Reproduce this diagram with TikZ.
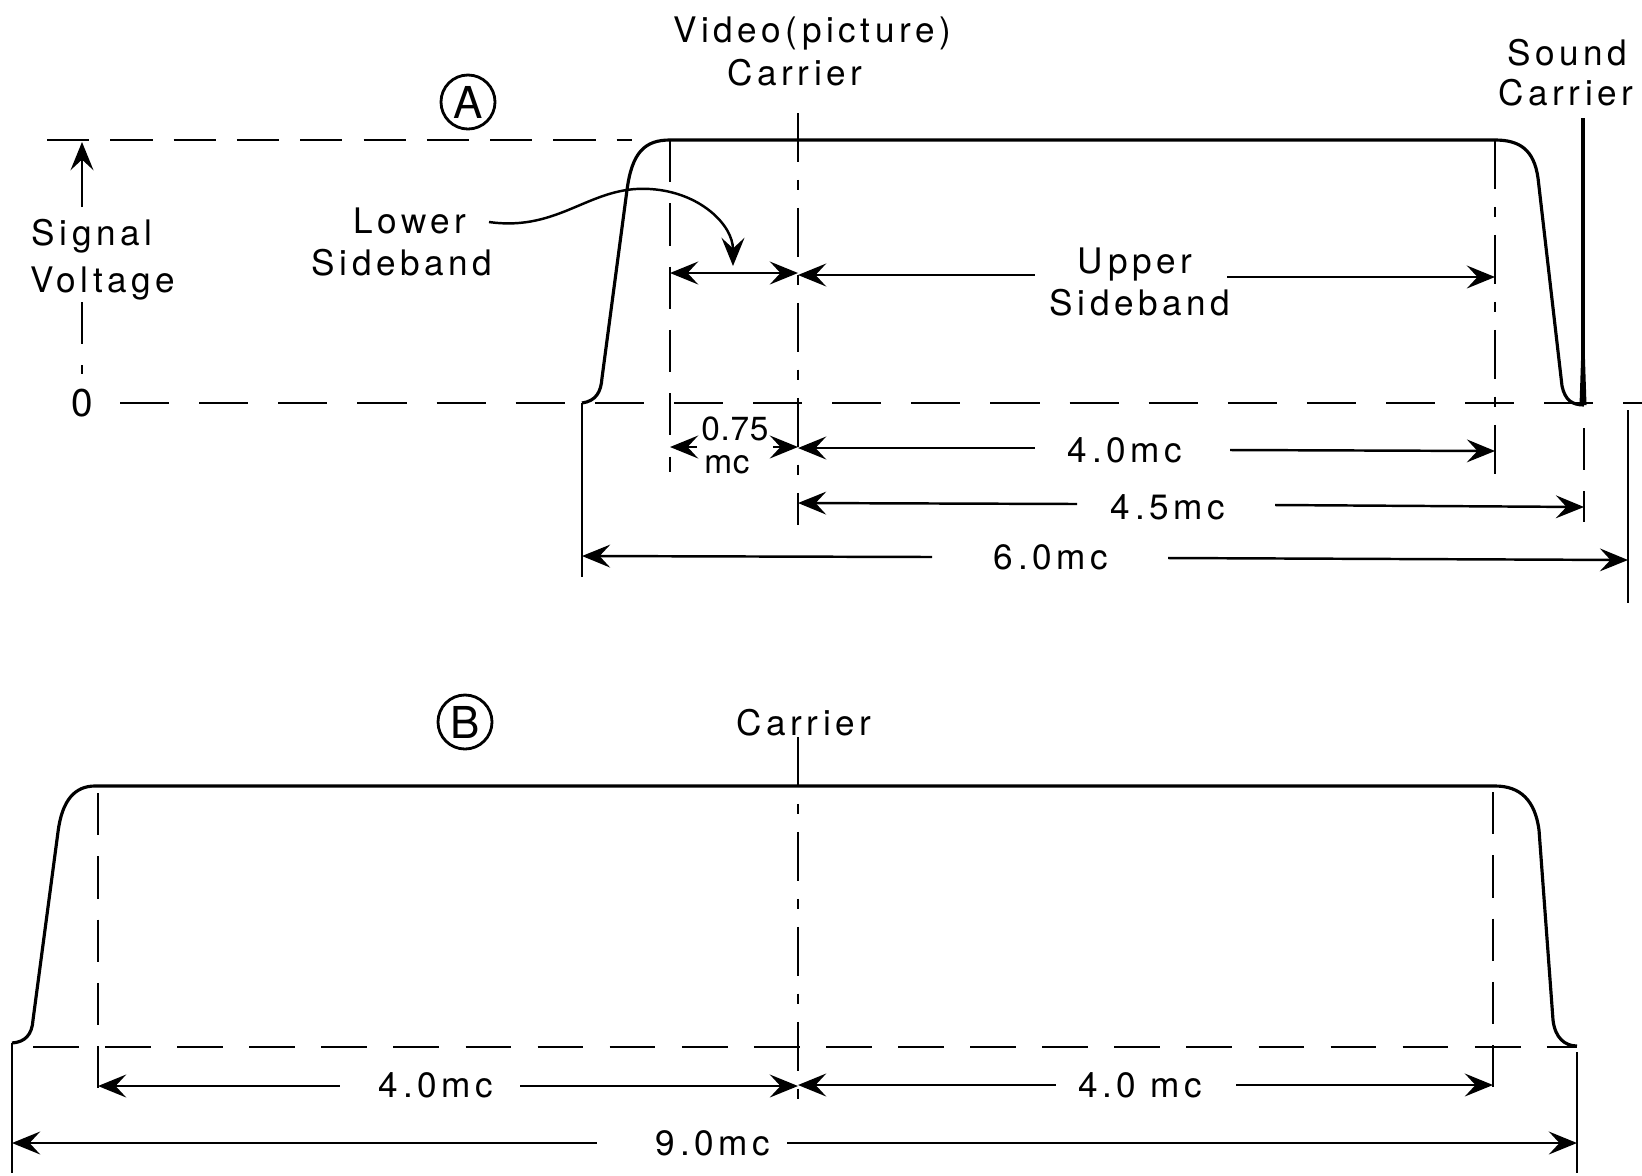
\documentclass[tikz,border=0pt]{standalone}
\usepackage{fontspec}
\setmainfont{TeX Gyre Heros}[LetterSpace=13]
\usetikzlibrary{arrows.meta}

\begin{document}
\begin{tikzpicture}[x=0.01cm, y=-0.01cm,
    >={Stealth[length=8pt, width=6.5pt, inset=3pt]},
    every node/.style={font=\fontsize{10}{12}\selectfont, inner sep=0pt},
    band/.style={line width=0.9pt},
    dim/.style={line width=0.7pt},
    guide/.style={line width=0.8pt, dash pattern=on 12pt off 6pt},
    levelA/.style={line width=0.8pt, dash pattern=on 14pt off 8.5pt},
    levelB/.style={line width=0.8pt, dash pattern=on 13pt off 7.5pt},
    carrier/.style={line width=0.8pt, dash pattern=on 14pt off 5pt on 3pt off 5pt},
    small/.style={font=\fontsize{9.5}{11}\selectfont\addfontfeatures{LetterSpace=2}},
    tag/.style={circle, draw, line width=0.8pt, minimum size=0.54cm, font=\fontsize{12.5}{14}\selectfont}]

    \useasboundingbox (0,0) rectangle (1642,1175);

    % =================================================================
    % 1. MAIN POINTS OF PART A
    % =================================================================
    \coordinate (LowA) at (670,140);
    \coordinate (VidA) at (798,113);
    \coordinate (UpA) at (1495,140);
    \coordinate (SndA) at (1583,118);
    \coordinate (FootL) at (582,403);
    \coordinate (FootR) at (1584,405);

    % =================================================================
    % 2. LEVEL LINES, GUIDES AND THE PASSBAND OF PART A
    % =================================================================
    \draw[guide] (47,140) -- (632,140);
    \draw[levelA] (120,403) -- (1642,403);

    % signal voltage axis
    \draw[dim, ->] (82,207) -- (82,142);
    \draw[guide] (82,302) -- (82,374);

    % vertical guides
    \draw[guide] (LowA) -- (670,472);
    \draw[carrier] (VidA) -- (798,525);
    \draw[carrier] (UpA) -- (1495,480);
    \draw[guide] (1584,428) -- (1584,522);
    \draw[dim] (FootL) -- (582,577);
    \draw[dim] (1628,410) -- (1628,603);

    % passband curve
    \draw[band] (FootL) .. controls (596,401) and (601,392) .. (602,378)
        -- (627,190) .. controls (632,152) and (645,140) .. (LowA)
        -- (UpA) .. controls (1520,140) and (1534,150) .. (1538,178)
        -- (1562,386) .. controls (1565,400) and (1572,405) .. (FootR);

    % sound carrier
    \draw[band] (SndA) -- (1583,405);
    \fill (1579.5,405) -- (1583,300) -- (1586.5,405) -- cycle;

    % =================================================================
    % 3. DIMENSIONS OF PART A
    % =================================================================
    \draw[dim, <->] (670,273) -- (798,273);
    \draw[dim, <-] (798,275) -- (1035,275);
    \draw[dim, ->] (1227,277) -- (1495,277);

    \draw[dim, ->] (697,447) -- (670,447);
    \draw[dim, ->] (773,447) -- (798,447);
    \draw[dim, <-] (798,448) -- (1035,448);
    \draw[dim, ->] (1230,450) -- (1495,451);
    \draw[dim, <-] (798,503) -- (1077,504);
    \draw[dim, ->] (1275,505) -- (1584,507);
    \draw[dim, <-] (582,556) -- (932,557);
    \draw[dim, ->] (1168,558) -- (1628,560);

    % curved pointer from the lower sideband label
    \draw[dim, ->] (489,222) .. controls (560,232) and (590,185) .. (650,189)
        .. controls (700,192) and (733,225) .. (733,266);

    % =================================================================
    % 4. LABELS OF PART A
    % =================================================================
    \node[tag] (tagA) at (468,102) {A};
    \node[anchor=base west] (sig1) at (31,245) {Signal};
    \node[anchor=base west] (sig2) at (30,292) {Voltage};
    \node[anchor=base, font=\fontsize{11}{12}\selectfont] (zeroA) at (82,416) {0};
    \node[anchor=base] (low1) at (410,233) {Lower};
    \node[anchor=base] (low2) at (402,275) {Sideband};
    \node[anchor=base] (vid1) at (812,42) {Video(picture)};
    \node[anchor=base] (vid2) at (795,85) {Carrier};
    \node[anchor=base] (snd1) at (1567,65) {Sound};
    \node[anchor=base] (snd2) at (1566,105) {Carrier};
    \node[anchor=base] (up1) at (1135,273) {Upper};
    \node[anchor=base] (up2) at (1140,315) {Sideband};
    \node[anchor=base, small] (lsb1) at (735,440) {0.75};
    \node[anchor=base, small] (lsb2) at (727,473) {mc};
    \node[anchor=base] (wA40) at (1125,462) {4.0mc};
    \node[anchor=base] (wA45) at (1168,519) {4.5mc};
    \node[anchor=base] (wA60) at (1051,569) {6.0mc};

    % =================================================================
    % 5. PART B
    % =================================================================
    \coordinate (LowB) at (98,793);
    \coordinate (VidB) at (798,737);
    \coordinate (UpB) at (1493,792);
    \coordinate (FootBL) at (12,1043);
    \coordinate (FootBR) at (1577,1046);

    \draw[levelB] (33,1047) -- (1577,1047);
    \draw[guide] (LowB) -- (98,1098);
    \draw[guide] (UpB) -- (1493,1103);
    \draw[carrier] (VidB) -- (798,1113);
    \draw[dim] (FootBL) -- (12,1173);
    \draw[dim] (1577,1052) -- (1577,1173);

    \draw[band] (FootBL) .. controls (25,1042) and (32,1035) .. (33,1020)
        -- (58,832) .. controls (62,800) and (75,786) .. (95,786)
        -- (1495,786) .. controls (1520,786) and (1535,800) .. (1539,830)
        -- (1553,1020) .. controls (1555,1038) and (1565,1046) .. (FootBR);

    \draw[dim, <-] (98,1086) -- (340,1086);
    \draw[dim, ->] (520,1086) -- (798,1086);
    \draw[dim, <-] (798,1085) -- (1056,1085);
    \draw[dim, ->] (1236,1085) -- (1493,1085);
    \draw[dim, <-] (12,1143) -- (597,1143);
    \draw[dim, ->] (787,1143) -- (1577,1143);

    \node[tag] (tagB) at (465,722) {B};
    \node[anchor=base] (vidB) at (804,735) {Carrier};
    \node[anchor=base] (wB40a) at (436,1097) {4.0mc};
    \node[anchor=base] (wB40b) at (1140,1097) {4.0 mc};
    \node[anchor=base] (wB90) at (713,1155) {9.0mc};

\end{tikzpicture}
\end{document}
